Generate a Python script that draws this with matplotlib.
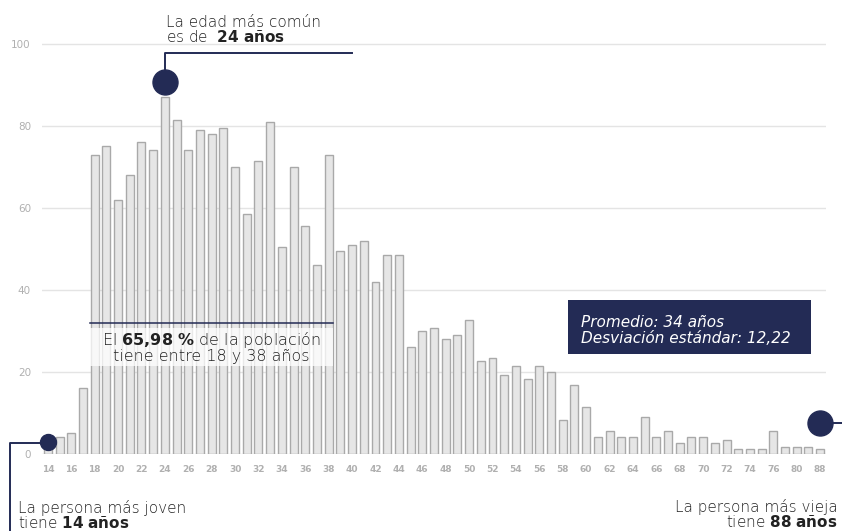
import matplotlib
matplotlib.use("Agg")
import matplotlib.pyplot as plt
from matplotlib.patches import Rectangle
import numpy as np

# --- Data ---
ages = list(range(14, 77)) + [78, 80, 84, 88]
counts = [1, 4, 5, 16, 73, 75, 62, 68, 76, 74,
          87, 81.5, 74, 79, 78, 79.5, 70, 58.5, 71.5, 81,
          50.5, 70, 55.5, 46, 73, 49.5, 51, 52, 42, 48.5,
          48.5, 26, 30, 30.6, 28, 29, 32.5, 22.6, 23.2, 19.2,
          21.3, 18.3, 21.3, 19.9, 8.3, 16.7, 11.4, 4, 5.5, 4,
          4, 9, 4, 5.5, 2.5, 4, 4, 2.5, 3.3, 1,
          1, 1, 5.5, 1.7, 1.7, 1.7, 1]
yticks = [0, 20, 40, 60, 80, 100]

navy = "#232b55"
grey_txt = "#b0b0b0"
dark_txt = "#222222"
font = "DejaVu Sans"

plt.rcParams['font.family'] = [font]
plt.rcParams['mathtext.fontset'] = 'custom'
plt.rcParams['mathtext.rm'] = font
plt.rcParams['mathtext.bf'] = font + ':bold'

W, H = 842, 531


def fx(px):
    return px / W


def fy(py):
    return 1 - py / H


fig = plt.figure(figsize=(8.42, 5.31), dpi=100)
y0, y100 = 453.5, 44
top_px = 38
ymax = 100 * (y0 - top_px) / (y0 - y100)
ax = fig.add_axes([fx(42), fy(y0), fx(826 - 42), (y0 - top_px) / H])

x = np.arange(len(ages))
ax.bar(x, counts, width=0.68, color="#e6e6e6", edgecolor="#a9a9a9",
       linewidth=1, zorder=2)
ax.set_xlim(-0.5, len(ages) - 0.5)
ax.set_ylim(0, ymax)
ax.set_yticks(yticks)
ax.yaxis.grid(True, color="#e4e4e4", linewidth=1, zorder=0)
ax.set_axisbelow(True)
for s in ax.spines.values():
    s.set_visible(False)
ax.set_xticks(x[::2])
ax.set_xticklabels([str(a) for a in ages[::2]], fontsize=6.5, fontweight='bold',
                   color=grey_txt)
ax.tick_params(axis='x', length=0, pad=8)
ax.tick_params(axis='y', length=0, pad=8, labelsize=7.5, labelcolor=grey_txt)

# --- Markers on bars ---
i_max = int(np.argmax(counts))
ax.plot(i_max, counts[i_max] + 3.7, 'o', ms=18, color=navy, clip_on=False, zorder=5)
ax.plot(0, counts[0] + 1.7, 'o', ms=11.5, color=navy, clip_on=False, zorder=5)
ax.plot(len(ages) - 1, counts[-1] + 6.4, 'o', ms=18, color=navy, clip_on=False, zorder=5)

# --- Connector lines (figure pixels) ---
lkw = dict(color=navy, linewidth=1.4, transform=fig.transFigure)
fig.add_artist(plt.Line2D([fx(165), fx(165), fx(352)], [fy(75), fy(52.5), fy(52.5)], **lkw))
fig.add_artist(plt.Line2D([fx(42), fx(10), fx(10)], [fy(442.5), fy(442.5), fy(531)], **lkw))
fig.add_artist(plt.Line2D([fx(825), fx(842)], [fy(423), fy(423)], **lkw))
fig.add_artist(plt.Line2D([fx(90), fx(333)], [fy(323), fy(323)],
                          color=navy, linewidth=1.1, transform=fig.transFigure))

# --- Annotation texts ---
tkw = dict(fontsize=11, fontweight='light', color=dark_txt, linespacing=0.92)
fig.text(fx(166), fy(42), "La edad más común\n" + r"es de  $\mathbf{24\ años}$",
         va='baseline', ha='left', **tkw)
fig.text(fx(18), fy(528), "La persona más joven\n" + r"tiene $\mathbf{14\ años}$",
         va='baseline', ha='left', **tkw)
fig.text(fx(838), fy(527), "La persona más vieja\n" + r"tiene $\mathbf{88\ años}$",
         va='baseline', ha='right', multialignment='right', **tkw)

fig.add_artist(Rectangle((fx(90), fy(366)), fx(243), (366 - 328) / H,
                         transform=fig.transFigure, facecolor='white', alpha=0.75,
                         edgecolor='none', zorder=3))
fig.text(fx(211.5), fy(361), r"El $\mathbf{65{,}98\ \%}$ de la población" + "\ntiene entre 18 y 38 años",
         va='baseline', ha='center', multialignment='center', zorder=4,
         fontsize=11.5, fontweight='light', color=dark_txt, linespacing=0.92)

fig.add_artist(Rectangle((fx(568), fy(354)), fx(811 - 568), (354 - 300) / H,
                         transform=fig.transFigure, facecolor=navy, edgecolor='none', zorder=3))
fig.text(fx(581), fy(343), "Promedio: 34 años\nDesviación estándar: 12,22",
         va='baseline', ha='left', zorder=4, linespacing=1.05,
         fontsize=11, style='italic', fontweight='light', color='white')

fig.savefig("out.png", dpi=100, facecolor='white')
